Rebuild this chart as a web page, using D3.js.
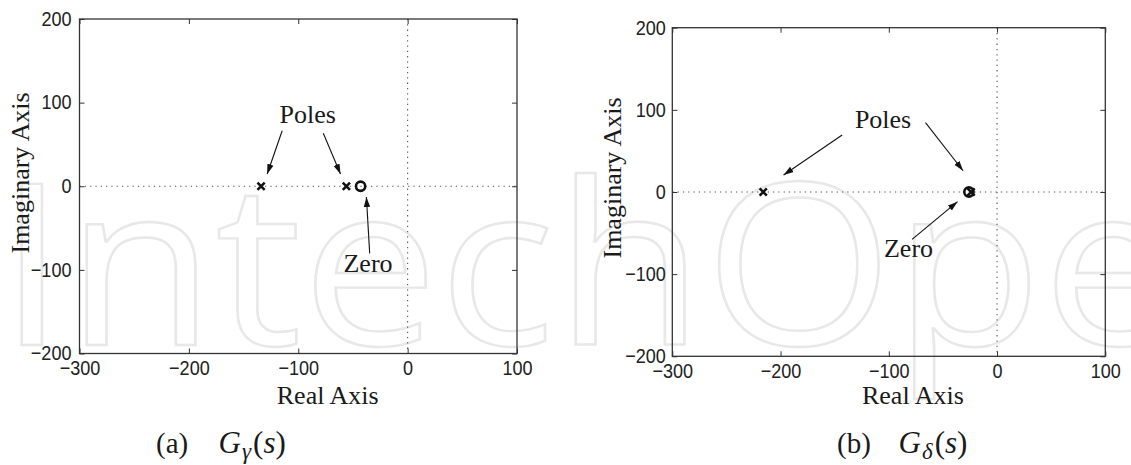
<!DOCTYPE html>
<html>
<head>
<meta charset="utf-8">
<script src="https://cdn.jsdelivr.net/npm/d3@7"></script>
<style>
  html, body { margin: 0; padding: 0; background: #fff; }
  svg { display: block; }
</style>
</head>
<body>
<svg id="chart" width="1131" height="465"></svg>
<script>
// Axis limits and tick values shared by both pole-zero maps
const xDomain = [-300, 100];
const yDomain = [-200, 200];
const xTicks = [-300, -200, -100, 0, 100];
const yTicks = [-200, -100, 0, 100, 200];

// (a) G_gamma(s): pole and zero locations on the real axis
const polesA = [-134, -56];
const zerosA = [-43];
// (b) G_delta(s)
const polesB = [-216, -24];
const zerosB = [-26];

// Annotation arrows, in data units: [fromRe, fromIm, toRe, toIm]
const arrowsA = [[-114.7, 66.4, -128.4, 14.6], [-77.1, 63.3, -61.4, 14.6], [-34.7, -80.3, -37.7, -12.9]];
const arrowsB = [[-143.1, 69.4, -197.2, 20.7], [-66.1, 84.4, -31.4, 25.9], [-78.5, -57.6, -36.5, -11.8]];
// Annotation labels, in data units: [text, re, im(baseline)]
const labelsA = [["Poles", -91.3, 76], ["Zero", -36.2, -102.3]];
const labelsB = [["Poles", -105.3, 78.3], ["Zero", -81.8, -79.5]];

const svg = d3.select("#chart");
const serif = "'Liberation Serif', 'Times New Roman', serif";
const sans = "'Liberation Sans', Arial, sans-serif";

// Faint publisher mark in the background
svg.append("text")
  .attr("x", -2).attr("y", 345)
  .attr("textLength", 1330).attr("lengthAdjust", "spacingAndGlyphs")
  .style("font-family", "'Open Sans', sans-serif")
  .style("font-weight", 400)
  .style("font-size", "225px")
  .attr("fill", "none").attr("stroke", "#e8e8e8").attr("stroke-width", 2.4)
  .text("IntechOpen");

const defs = svg.append("defs");
defs.append("marker")
  .attr("id", "head").attr("markerUnits", "userSpaceOnUse")
  .attr("viewBox", "0 -4 10 8").attr("refX", 10).attr("refY", 0)
  .attr("markerWidth", 10).attr("markerHeight", 8).attr("orient", "auto")
  .append("path").attr("d", "M0,-3.2L10,0L0,3.2Z").attr("fill", "#111");

function drawPanel(box, poles, zeros, arrows, labels, caption) {
  const x = d3.scaleLinear(xDomain, [box.left, box.right]);
  const y = d3.scaleLinear(yDomain, [box.bottom, box.top]);
  const g = svg.append("g");

  // dotted real / imaginary axes
  g.append("line")
    .attr("x1", x(0)).attr("x2", x(0)).attr("y1", box.top).attr("y2", box.bottom)
    .attr("stroke", "#555").attr("stroke-width", 1.1).attr("stroke-dasharray", "1.3 4");
  g.append("line")
    .attr("x1", box.left).attr("x2", box.right).attr("y1", y(0)).attr("y2", y(0))
    .attr("stroke", "#555").attr("stroke-width", 1.1).attr("stroke-dasharray", "1.3 4");

  const tick = 5;
  const styleAxis = sel => {
    sel.select(".domain").remove();
    sel.selectAll(".tick line").attr("stroke", "#333");
  };
  const bottom = g.append("g").attr("transform", `translate(0,${box.bottom})`)
    .call(d3.axisBottom(x).tickValues(xTicks).tickSize(-tick).tickPadding(7))
    .call(styleAxis);
  bottom.selectAll("text")
    .style("font-family", sans).style("font-size", "21px").attr("fill", "#222")
    .attr("transform", "scale(0.86,1)");
  g.append("g").attr("transform", `translate(0,${box.top})`)
    .call(d3.axisTop(x).tickValues(xTicks).tickSize(-tick).tickFormat(""))
    .call(styleAxis);
  const left = g.append("g").attr("transform", `translate(${box.left},0)`)
    .call(d3.axisLeft(y).tickValues(yTicks).tickSize(-tick).tickPadding(0))
    .call(styleAxis);
  left.selectAll("text")
    .style("font-family", sans).style("font-size", "21px").attr("fill", "#222")
    .attr("x", -box.gap / 0.86).attr("dy", "0.3em")
    .attr("transform", "scale(0.86,1)");
  g.append("g").attr("transform", `translate(${box.right},0)`)
    .call(d3.axisRight(y).tickValues(yTicks).tickSize(-tick).tickFormat(""))
    .call(styleAxis);

  g.append("rect")
    .attr("x", box.left).attr("y", box.top)
    .attr("width", box.right - box.left).attr("height", box.bottom - box.top)
    .attr("fill", "none").attr("stroke", "#333").attr("stroke-width", 1.3);

  // zeros as circles, poles as crosses
  g.selectAll(".zero").data(zeros).join("circle")
    .attr("cx", d => x(d)).attr("cy", y(0)).attr("r", 4.6)
    .attr("fill", "none").attr("stroke", "#111").attr("stroke-width", 2.6);
  const s = 3.6;
  g.selectAll(".pole").data(poles).join("path")
    .attr("d", d => `M${x(d) - s},${y(0) - s}L${x(d) + s},${y(0) + s}M${x(d) - s},${y(0) + s}L${x(d) + s},${y(0) - s}`)
    .attr("stroke", "#111").attr("stroke-width", 2.6).attr("fill", "none");

  // annotations
  g.selectAll(".arrow").data(arrows).join("line")
    .attr("x1", d => x(d[0])).attr("y1", d => y(d[1]))
    .attr("x2", d => x(d[2])).attr("y2", d => y(d[3]))
    .attr("stroke", "#111").attr("stroke-width", 1.1)
    .attr("marker-end", "url(#head)");
  g.selectAll(".note").data(labels).join("text")
    .attr("x", d => x(d[1])).attr("y", d => y(d[2]))
    .attr("text-anchor", "middle")
    .style("font-family", serif).style("font-size", "26px").attr("fill", "#1a1a1a")
    .text(d => d[0]);

  // axis titles
  g.append("text")
    .attr("x", box.xlabelX).attr("y", 404)
    .attr("text-anchor", "middle")
    .style("font-family", serif).style("font-size", "26px").attr("fill", "#1a1a1a")
    .text("Real Axis");
  g.append("text")
    .attr("transform", `translate(${box.ylabelX},${box.ylabelY}) rotate(-90)`)
    .attr("text-anchor", "middle").attr("dy", "0.33em")
    .style("font-family", serif).style("font-size", "26px").attr("fill", "#1a1a1a")
    .text("Imaginary Axis");

  // sub-figure caption
  g.append("text")
    .attr("x", caption.x).attr("y", 453)
    .style("font-family", serif).style("font-size", "29px").attr("fill", "#1a1a1a")
    .text(caption.tag);
  const c = g.append("text")
    .attr("x", caption.gx).attr("y", 453)
    .style("font-family", serif).style("font-size", "31px").attr("fill", "#1a1a1a");
  c.append("tspan").style("font-style", "italic").text("G");
  c.append("tspan").style("font-style", "italic").style("font-size", "23px")
    .attr("dy", 6).attr("dx", 1).text(caption.sub);
  c.append("tspan").attr("dy", -6).attr("dx", 2).text("(");
  c.append("tspan").style("font-style", "italic").text("s");
  c.append("tspan").text(")");
}

drawPanel(
  { left: 79.5, right: 517, top: 19, bottom: 353.5, gap: 8, xlabelX: 327.7, ylabelX: 20, ylabelY: 173 },
  polesA, zerosA, arrowsA, labelsA,
  { x: 156, gx: 218.6, tag: "(a)", sub: "γ" }
);
drawPanel(
  { left: 672.3, right: 1105.3, top: 27.7, bottom: 356.3, gap: 6.5, xlabelX: 912.9, ylabelX: 612, ylabelY: 178 },
  polesB, zerosB, arrowsB, labelsB,
  { x: 837, gx: 898.6, tag: "(b)", sub: "δ" }
);
</script>
</body>
</html>
